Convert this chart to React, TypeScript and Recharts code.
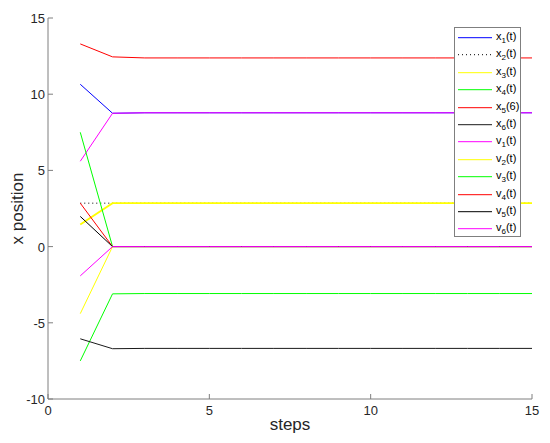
import React from 'react';
import { LineChart, Line, XAxis, YAxis, Legend, Label } from 'recharts';

const STEPS = [1, 2, 3, 4, 5, 6, 7, 8, 9, 10, 11, 12, 13, 14, 15];
const X1 = [10.65, 8.75, 8.78, 8.78, 8.78, 8.78, 8.78, 8.78, 8.78, 8.78, 8.78, 8.78, 8.78, 8.78, 8.78];
const X2 = [2.85, 2.85, 2.85, 2.85, 2.85, 2.85, 2.85, 2.85, 2.85, 2.85, 2.85, 2.85, 2.85, 2.85, 2.85];
const X3 = [1.45, 2.85, 2.85, 2.85, 2.85, 2.85, 2.85, 2.85, 2.85, 2.85, 2.85, 2.85, 2.85, 2.85, 2.85];
const X4 = [-7.5, -3.1, -3.08, -3.08, -3.08, -3.08, -3.08, -3.08, -3.08, -3.08, -3.08, -3.08, -3.08, -3.08, -3.08];
const X5 = [13.3, 12.45, 12.38, 12.38, 12.38, 12.38, 12.38, 12.38, 12.38, 12.38, 12.38, 12.38, 12.38, 12.38, 12.38];
const X6 = [-6.05, -6.7, -6.68, -6.68, -6.68, -6.68, -6.68, -6.68, -6.68, -6.68, -6.68, -6.68, -6.68, -6.68, -6.68];
const V1 = [5.6, 8.75, 8.78, 8.78, 8.78, 8.78, 8.78, 8.78, 8.78, 8.78, 8.78, 8.78, 8.78, 8.78, 8.78];
const V2 = [-4.4, 0, 0, 0, 0, 0, 0, 0, 0, 0, 0, 0, 0, 0, 0];
const V3 = [7.5, 0, 0, 0, 0, 0, 0, 0, 0, 0, 0, 0, 0, 0, 0];
const V4 = [2.85, 0, 0, 0, 0, 0, 0, 0, 0, 0, 0, 0, 0, 0, 0];
const V5 = [1.98, 0, 0, 0, 0, 0, 0, 0, 0, 0, 0, 0, 0, 0, 0];
const V6 = [-1.92, 0, 0, 0, 0, 0, 0, 0, 0, 0, 0, 0, 0, 0, 0];

const X_TICKS = [0, 5, 10, 15];
const Y_TICKS = [-10, -5, 0, 5, 10, 15];

const SERIES = [
  { key: 'x1', values: X1, base: 'x', sub: '1', arg: '(t)', color: '#0000ff', dash: undefined, w: 1 },
  { key: 'x2', values: X2, base: 'x', sub: '2', arg: '(t)', color: '#000000', dash: '1 3', w: 1 },
  { key: 'x3', values: X3, base: 'x', sub: '3', arg: '(t)', color: '#ffff00', dash: undefined, w: 1.8 },
  { key: 'x4', values: X4, base: 'x', sub: '4', arg: '(t)', color: '#00ff00', dash: undefined, w: 1 },
  { key: 'x5', values: X5, base: 'x', sub: '5', arg: '(6)', color: '#ff0000', dash: undefined, w: 1 },
  { key: 'x6', values: X6, base: 'x', sub: '6', arg: '(t)', color: '#1a1a1a', dash: undefined, w: 1 },
  { key: 'v1', values: V1, base: 'v', sub: '1', arg: '(t)', color: '#ff00ff', dash: undefined, w: 1 },
  { key: 'v2', values: V2, base: 'v', sub: '2', arg: '(t)', color: '#ffff00', dash: undefined, w: 1 },
  { key: 'v3', values: V3, base: 'v', sub: '3', arg: '(t)', color: '#00ff00', dash: undefined, w: 1 },
  { key: 'v4', values: V4, base: 'v', sub: '4', arg: '(t)', color: '#ff0000', dash: undefined, w: 1 },
  { key: 'v5', values: V5, base: 'v', sub: '5', arg: '(t)', color: '#000000', dash: undefined, w: 1 },
  { key: 'v6', values: V6, base: 'v', sub: '6', arg: '(t)', color: '#ff00ff', dash: undefined, w: 1 },
];

const data = STEPS.map((s, i) => {
  const row: any = { step: s };
  SERIES.forEach((ser) => {
    row[ser.key] = ser.values[i];
  });
  return row;
});

const FRAME = '#7f7f7f';
const TEXT = '#262626';
const FONT = '"Liberation Sans", Arial, Helvetica, sans-serif';

const BottomTick = (props: any) => {
  const { x, y, payload } = props;
  return (
    <g>
      <line x1={x} x2={x} y1={y} y2={y - 5} stroke={FRAME} />
      <text x={x} y={y + 16} textAnchor="middle" fontSize={13} fill={TEXT} fontFamily={FONT}>
        {payload.value}
      </text>
    </g>
  );
};

const TopTick = (props: any) => {
  const { x, y } = props;
  return <line x1={x} x2={x} y1={y} y2={y + 5} stroke={FRAME} />;
};

const LeftTick = (props: any) => {
  const { x, y, payload } = props;
  return (
    <g>
      <line x1={x} x2={x + 5} y1={y} y2={y} stroke={FRAME} />
      <text x={x - 3} y={y + 5} textAnchor="end" fontSize={13} fill={TEXT} fontFamily={FONT}>
        {payload.value}
      </text>
    </g>
  );
};

const RightTick = (props: any) => {
  const { x, y } = props;
  return <line x1={x} x2={x - 5} y1={y} y2={y} stroke={FRAME} />;
};

const XTitle = (props: any) => {
  const vb = props.viewBox || { x: 40, y: 391, width: 484, height: 44 };
  return (
    <text x={vb.x + vb.width / 2} y={vb.y + 31} textAnchor="middle" fontSize={17} fill={TEXT} fontFamily={FONT}>
      steps
    </text>
  );
};

const YTitle = (props: any) => {
  const vb = props.viewBox || { x: 0, y: 10, width: 40, height: 381 };
  const cx = vb.x + 15;
  const cy = vb.y + vb.height / 2;
  return (
    <text
      x={cx}
      y={cy}
      transform={`rotate(-90 ${cx} ${cy})`}
      textAnchor="middle"
      fontSize={17}
      fill={TEXT}
      fontFamily={FONT}
    >
      x position
    </text>
  );
};

const LegendBox = () => (
  <div
    style={{
      width: 67,
      height: 210,
      border: `1px solid ${FRAME}`,
      background: '#fff',
      boxSizing: 'border-box',
      paddingTop: 1,
      fontFamily: FONT,
    }}
  >
    {SERIES.map((s) => (
      <div key={s.key} style={{ height: 17.4, position: 'relative' }}>
        <svg width={40} height={17.4} style={{ position: 'absolute', left: 0, top: 0 }}>
          <line
            x1={3}
            x2={37}
            y1={8.7}
            y2={8.7}
            stroke={s.color}
            strokeWidth={1}
            strokeDasharray={s.dash}
          />
        </svg>
        <span
          style={{
            position: 'absolute',
            left: 41,
            top: 1,
            fontSize: 11,
            lineHeight: '13px',
            color: '#000',
            whiteSpace: 'nowrap',
          }}
        >
          {s.base}
          <span style={{ fontSize: 8, position: 'relative', top: 3 }}>{s.sub}</span>
          {s.arg}
        </span>
      </div>
    ))}
  </div>
);

export default function App() {
  return (
    <div style={{ width: 542, height: 435, fontFamily: FONT }}>
      <LineChart width={542} height={435} data={data} margin={{ top: 10, right: 18, bottom: 0, left: 0 }}>
        <XAxis
          dataKey="step"
          type="number"
          domain={[0, 15]}
          ticks={X_TICKS}
          height={44}
          tickSize={0}
          tickMargin={0}
          tickLine={false}
          axisLine={{ stroke: FRAME }}
          tick={BottomTick}
          interval={0}
        >
          <Label content={XTitle} />
        </XAxis>
        <XAxis
          xAxisId="top"
          orientation="top"
          dataKey="step"
          type="number"
          domain={[0, 15]}
          ticks={X_TICKS}
          height={0}
          tickSize={0}
          tickMargin={0}
          tickLine={false}
          axisLine={{ stroke: FRAME }}
          tick={TopTick}
          interval={0}
        />
        <YAxis
          type="number"
          domain={[-10, 15]}
          ticks={Y_TICKS}
          width={40}
          tickSize={0}
          tickMargin={0}
          tickLine={false}
          axisLine={{ stroke: FRAME }}
          tick={LeftTick}
          interval={0}
        >
          <Label content={YTitle} />
        </YAxis>
        <YAxis
          yAxisId="right"
          orientation="right"
          type="number"
          domain={[-10, 15]}
          ticks={Y_TICKS}
          width={0}
          tickSize={0}
          tickMargin={0}
          tickLine={false}
          axisLine={{ stroke: FRAME }}
          tick={RightTick}
          interval={0}
        />
        {SERIES.map((s) => (
          <Line
            key={s.key}
            dataKey={s.key}
            stroke={s.color}
            strokeWidth={s.w}
            strokeDasharray={s.dash}
            dot={false}
            activeDot={false}
            type="linear"
            isAnimationActive={false}
          />
        ))}
        <Legend
          layout="vertical"
          verticalAlign="middle"
          align="center"
          content={LegendBox}
          wrapperStyle={{ position: 'absolute', top: 19, left: 446, width: 67, height: 210 }}
        />
      </LineChart>
    </div>
  );
}
